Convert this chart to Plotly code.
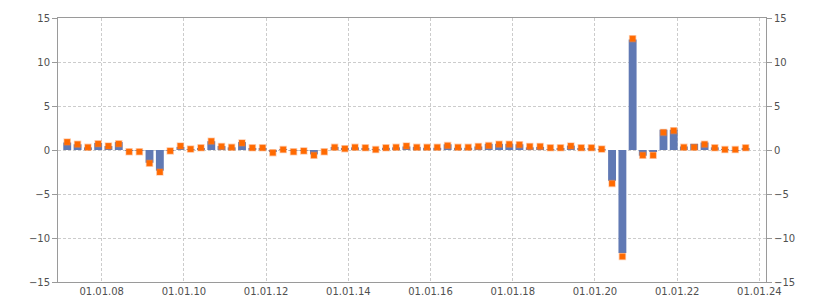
import pandas as pd
import plotly.graph_objects as go

# quarterly periods
dates = pd.date_range("2007-03-01", periods=67, freq="3MS")

bar_values = [0.85, 0.65, 0.3, 0.8, 0.45, 0.9, -0.05, -0.05, -1.45, -2.35, -0.05, 0.35,
              0.1, 0.2, 1.0, 0.45, 0.3, 0.9, 0.2, 0.2, -0.2, 0.05, -0.05, -0.05,
              -0.5, 0.0, 0.35, 0.2, 0.3, 0.2, 0.05, 0.25, 0.3, 0.4, 0.35,
              0.25, 0.25, 0.65, 0.25, 0.25, 0.4, 0.7, 0.7, 0.7, 0.65, 0.3, 0.35,
              0.1, 0.15, 0.5, 0.15, 0.15, 0.1, -3.5, -11.7, 12.55, -0.65, -0.2, 2.3, 2.3,
              0.4, 0.7, 0.85, 0.3, 0.05, -0.05, 0.2]

point_values = [0.9, 0.65, 0.3, 0.7, 0.45, 0.7, -0.2, -0.2, -1.5, -2.5, -0.1, 0.45,
                0.1, 0.25, 1.0, 0.4, 0.3, 0.8, 0.25, 0.25, -0.3, 0.05, -0.2, -0.1,
                -0.6, -0.2, 0.3, 0.15, 0.3, 0.25, 0.05, 0.25, 0.3, 0.45, 0.3,
                0.3, 0.3, 0.5, 0.3, 0.3, 0.4, 0.5, 0.65, 0.65, 0.6, 0.4, 0.4,
                0.25, 0.25, 0.45, 0.25, 0.25, 0.1, -3.8, -12.1, 12.65, -0.6, -0.6, 2.0, 2.2,
                0.3, 0.3, 0.65, 0.25, 0.05, 0.05, 0.25]

y_ticks = [-15, -10, -5, 0, 5, 10, 15]
y_tick_labels = ["\u221215", "\u221210", "\u22125", "0", "5", "10", "15"]

DAY_MS = 86400000
grid = "#cccccc"
axis_c = "#9a9a9a"
font = dict(family="DejaVu Sans, Verdana, sans-serif", size=10, color="#505050")

fig = go.Figure()
fig.add_trace(go.Bar(x=dates, y=bar_values, marker=dict(color="#6079b4", line=dict(width=0)),
                     width=70 * DAY_MS, yaxis="y"))
fig.add_trace(go.Scatter(x=dates, y=point_values, mode="markers", yaxis="y2",
                         marker=dict(symbol="square", size=6, color="#ff6a00",
                                     line=dict(width=1.5, color="rgba(255,130,50,0.35)"))))

fig.update_layout(
    width=825, height=300,
    margin=dict(l=58, r=59, t=18, b=18, autoexpand=False),
    paper_bgcolor="white", plot_bgcolor="white",
    showlegend=False, font=font,
    xaxis=dict(type="date", range=["2006-12-09", "2024-02-29"], automargin=False,
               tick0="2008-01-01", dtick="M24", tickformat="%d.%m.%y",
               showgrid=True, gridcolor=grid, griddash="3px,2px", gridwidth=1,
               showline=True, linecolor=axis_c, linewidth=1, mirror=True,
               ticks="", ticklen=0, zeroline=False),
    yaxis=dict(range=[-15, 15], tickvals=y_ticks, ticktext=y_tick_labels, automargin=False,
               showgrid=True, gridcolor=grid, griddash="3px,2px", gridwidth=1,
               showline=True, linecolor=axis_c, linewidth=1,
               ticks="outside", ticklen=5, tickcolor=axis_c, zeroline=False),
    yaxis2=dict(range=[-15, 15], tickvals=y_ticks, ticktext=y_tick_labels, automargin=False,
                overlaying="y", side="right", showgrid=False,
                showline=True, linecolor=axis_c, linewidth=1,
                ticks="outside", ticklen=5, tickcolor=axis_c, zeroline=False),
)

fig.write_html("out.html")
